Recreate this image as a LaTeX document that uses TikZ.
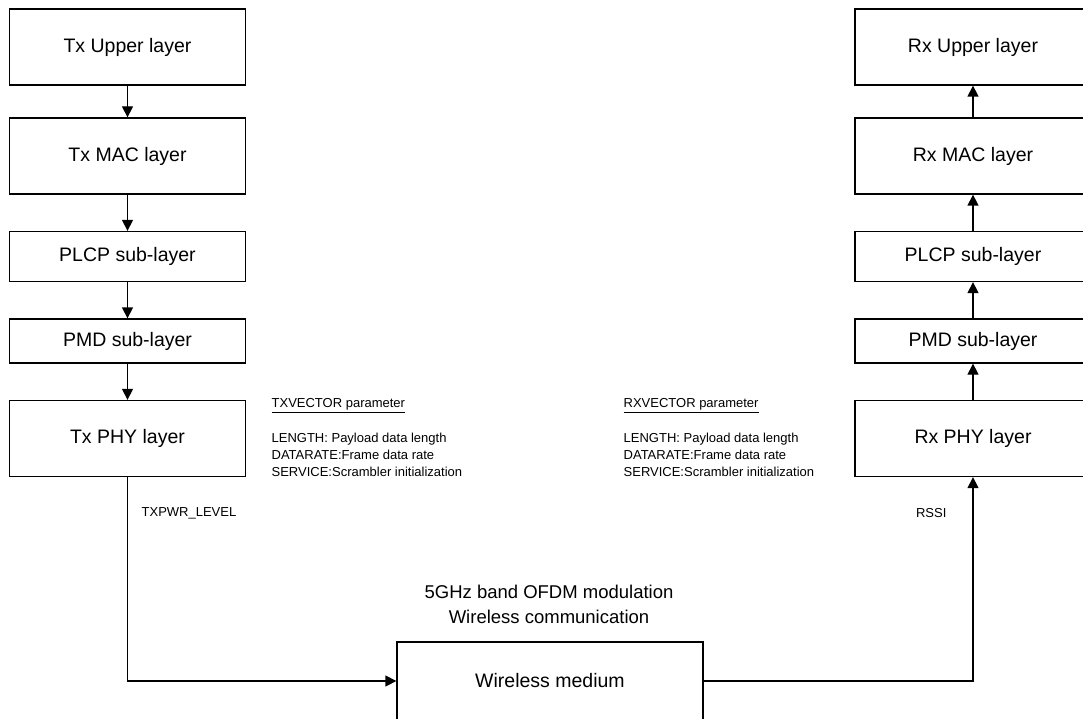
\documentclass[tikz,border=0pt]{standalone}
\usepackage{fontspec}
\setmainfont{Liberation Sans}
\usetikzlibrary{arrows.meta}

\tikzset{
  layer/.style={draw,rectangle,inner sep=0pt,minimum width=236,minimum height=76,
    font=\fontsize{19.5}{23}\selectfont},
  sublayer/.style={layer,minimum height=50},
  note/.style={inner sep=0pt,align=left,font=\fontsize{13}{17.3}\selectfont},
}

\begin{document}
\begin{tikzpicture}[x=1pt,y=-1pt,line width=1.3pt,>={Triangle[length=11pt,width=11pt]}]
\useasboundingbox (0,0) rectangle (1083,719);
\clip (0,0) rectangle (1083,719);
  % transmitter side
  \node[layer] at (127.5,47) (txup){Tx Upper layer};
  \node[layer] at ([yshift=-109pt]txup) (txmac){Tx MAC layer};
  \node[sublayer] at (127.5,256.5) (txplcp){PLCP sub-layer};
  \node[sublayer,minimum height=44] at (127.5,341) (txpmd){PMD sub-layer};
  \node[layer] at (127.5,438.5) (txphy){Tx PHY layer};
  \draw [->] (txup.south) -- (txmac.north);
  \draw [->] (txmac.south) -- (txplcp.north);
  \draw [->] (txplcp.south) -- (txpmd.north);
  \draw [->] (txpmd.south) -- (txphy.north);

  % receiver side
  \node[layer] at ([xshift=845.5pt]txup) (rxup){Rx Upper layer};
  \node[layer] at ([xshift=845.5pt]txmac) (rxmac){Rx MAC layer};
  \node[sublayer] at ([xshift=845.5pt]txplcp) (rxplcp){PLCP sub-layer};
  \node[sublayer,minimum height=44] at ([xshift=845.5pt]txpmd) (rxpmd){PMD sub-layer};
  \node[layer] at ([xshift=845.5pt]txphy) (rxphy){Rx PHY layer};
  \draw [->] (rxmac.north) -- (rxup.south);
  \draw [->] (rxplcp.north) -- (rxmac.south);
  \draw [->] (rxpmd.north) -- (rxplcp.south);
  \draw [->] (rxphy.north) -- (rxpmd.south);

  % medium
  \node[layer,minimum width=306,minimum height=78] at (550,681) (medium){Wireless medium};
  \node[align=center,inner sep=0pt,font=\fontsize{18.5}{25}\selectfont] at (549,604.5) (band)
    {5GHz band OFDM modulation\\Wireless communication};
  \draw [->] (txphy.south) |- (medium.west);
  \draw [->] (medium.east) -| (rxphy.south);

  \node[note,anchor=west] at (141,513) (txpwr){TXPWR\_LEVEL};
  \node[note,anchor=east] at (947,513) (rssi){RSSI};

  \node[note,anchor=north west] at (271,398) (txvec)
    {\underline{TXVECTOR parameter}\\[17.3pt]
     LENGTH: Payload data length\\
     DATARATE:Frame data rate\\
     SERVICE:Scrambler initialization};
  \node[note,anchor=north west] at (623,398) (rxvec)
    {\underline{RXVECTOR parameter}\\[17.3pt]
     LENGTH: Payload data length\\
     DATARATE:Frame data rate\\
     SERVICE:Scrambler initialization};
\end{tikzpicture}
\end{document}
